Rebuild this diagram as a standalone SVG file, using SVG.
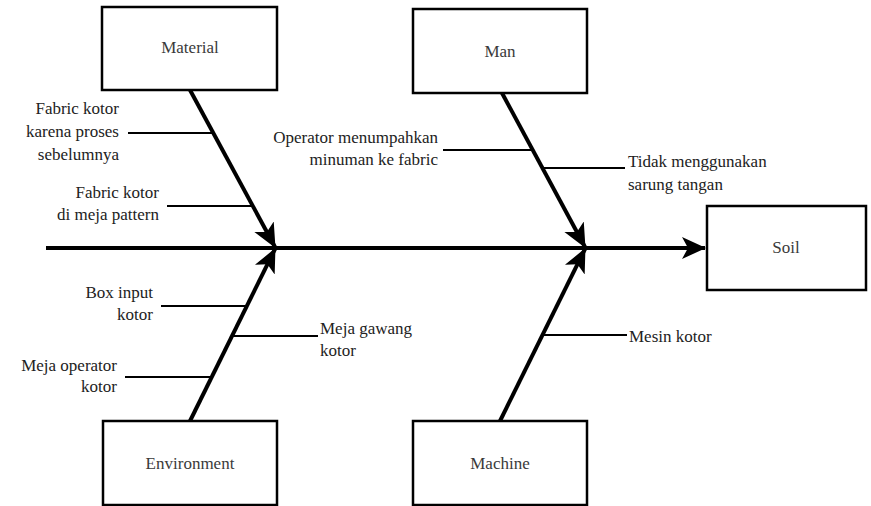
<svg xmlns="http://www.w3.org/2000/svg" width="871" height="506" viewBox="0 0 871 506">
  <style>
    .box { fill: #ffffff; stroke: #000000; stroke-width: 2.5; }
    .bone { stroke: #000000; stroke-width: 4; fill: none; }
    .twig { stroke: #000000; stroke-width: 2.2; fill: none; }
    text { font-family: 'Liberation Serif', 'DejaVu Serif', serif; font-size: 17px; }
    .lbl { fill: #222222; }
    .cat { fill: #3a3a3a; text-anchor: middle; }
    .r { text-anchor: end; }
  </style>
  <defs>
    <marker id="arrow" viewBox="0 0 24 24" refX="23" refY="12" markerWidth="24" markerHeight="24" markerUnits="userSpaceOnUse" orient="auto">
      <path d="M0,1 L24,12 L0,23 L6,12 Z" fill="#000000"/>
    </marker>
  </defs>
  <rect width="871" height="506" fill="#ffffff"/>

  <!-- bones and branches -->
  <g id="connectors">
    <line class="bone" x1="46" y1="248" x2="705" y2="248" marker-end="url(#arrow)"/>
    <line class="bone" x1="190" y1="90" x2="275" y2="247" marker-end="url(#arrow)"/>
    <line class="bone" x1="502" y1="93" x2="585" y2="247" marker-end="url(#arrow)"/>
    <line class="bone" x1="190" y1="421" x2="275" y2="249" marker-end="url(#arrow)"/>
    <line class="bone" x1="500" y1="421" x2="585" y2="249" marker-end="url(#arrow)"/>

    <line class="twig" x1="128" y1="133" x2="213" y2="133"/>
    <line class="twig" x1="167" y1="206" x2="252" y2="206"/>
    <line class="twig" x1="443" y1="150" x2="532" y2="150"/>
    <line class="twig" x1="542" y1="168" x2="625" y2="168"/>
    <line class="twig" x1="161" y1="306" x2="246" y2="306"/>
    <line class="twig" x1="232" y1="336" x2="318" y2="336"/>
    <line class="twig" x1="125" y1="377" x2="211" y2="377"/>
    <line class="twig" x1="542" y1="335" x2="627" y2="335"/>
  </g>

  <!-- causes -->
  <g id="cause-labels" font-family="Liberation Serif, DejaVu Serif, serif">
    <text class="lbl r" x="119" y="114">Fabric kotor</text>
    <text class="lbl r" x="119" y="137">karena proses</text>
    <text class="lbl r" x="119" y="160">sebelumnya</text>

    <text class="lbl r" x="159" y="198">Fabric kotor</text>
    <text class="lbl r" x="159" y="220">di meja pattern</text>

    <text class="lbl r" x="438" y="143">Operator menumpahkan</text>
    <text class="lbl r" x="438" y="165">minuman ke fabric</text>

    <text class="lbl" x="628" y="167">Tidak menggunakan</text>
    <text class="lbl" x="628" y="190">sarung tangan</text>

    <text class="lbl r" x="153" y="298">Box input</text>
    <text class="lbl r" x="153" y="320">kotor</text>

    <text class="lbl" x="320" y="334">Meja gawang</text>
    <text class="lbl" x="320" y="356">kotor</text>

    <text class="lbl r" x="117" y="371">Meja operator</text>
    <text class="lbl r" x="117" y="392">kotor</text>

    <text class="lbl" x="629" y="342">Mesin kotor</text>
  </g>

  <!-- category boxes -->
  <g id="material">
    <rect class="box" x="102" y="7" width="175" height="83"/>
    <text class="cat" x="190" y="53">Material</text>
  </g>
  <g id="man">
    <rect class="box" x="413" y="9" width="174" height="84"/>
    <text class="cat" x="500" y="57">Man</text>
  </g>
  <g id="environment">
    <rect class="box" x="103" y="421" width="174" height="84"/>
    <text class="cat" x="190" y="469">Environment</text>
  </g>
  <g id="machine">
    <rect class="box" x="413" y="421" width="174" height="84"/>
    <text class="cat" x="500" y="469">Machine</text>
  </g>

  <!-- effect -->
  <g id="soil">
    <rect class="box" x="707" y="206" width="159" height="84"/>
    <text class="cat" x="786" y="253">Soil</text>
  </g>
</svg>
